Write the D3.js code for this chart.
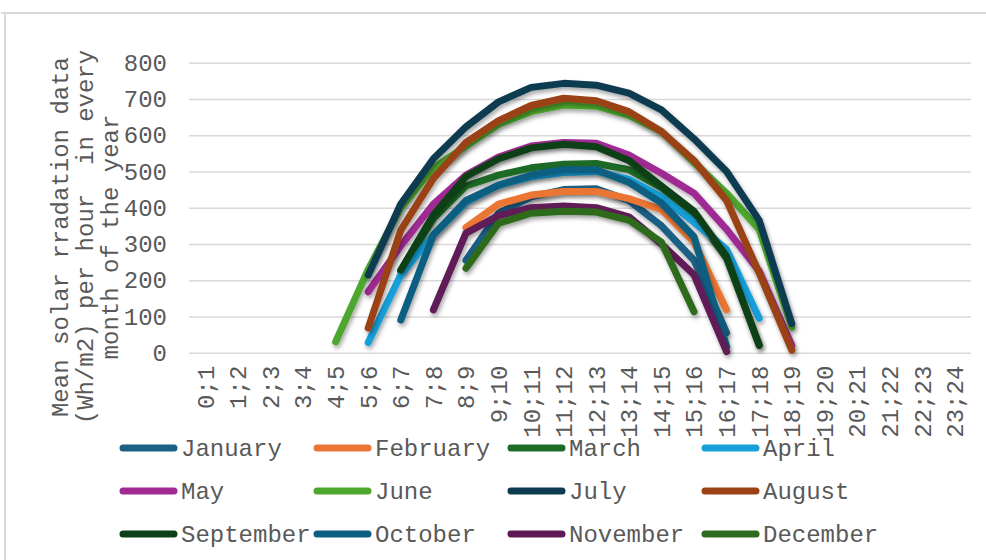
<!doctype html>
<html>
  <head>
    <script src="https://cdn.jsdelivr.net/npm/d3@7/dist/d3.min.js"></script>
    <style>
      body { margin: 0; background: #fff; }
      text { font-family: "Liberation Mono", "Courier New", monospace; fill: #595959; }
    </style>
  </head>
  <body>
    <svg id="chart" width="986" height="560"></svg>
    <script>
      // hour slots on the x axis
      const hours = d3.range(24).map(i => i + ";" + (i + 1));
      const yTicks = [0, 100, 200, 300, 400, 500, 600, 700, 800];

      const months = ["January", "February", "March", "April", "May", "June",
                      "July", "August", "September", "October", "November", "December"];
      const colors = ["#1b5f85", "#eb7532", "#1d6b28", "#17a0d9", "#a02b93", "#4ea72e",
                      "#0c3a50", "#9a4214", "#0e3f17", "#0b5f82", "#5e1a56", "#2e6a1f"];

      // values per month: first hour index + readings
      const january   = { start: 8, values: [255, 385, 430, 450, 452, 420, 350, 255, 55] };
      const february  = { start: 8, values: [345, 410, 435, 445, 445, 425, 395, 305, 118] };
      const march     = { start: 6, values: [225, 370, 460, 490, 510, 520, 522, 505, 455, 385, 260, 22] };
      const april     = { start: 5, values: [28, 215, 325, 415, 462, 485, 497, 500, 478, 430, 360, 285, 95] };
      const may       = { start: 5, values: [168, 295, 410, 490, 540, 570, 580, 578, 545, 495, 440, 340, 225, 20] };
      const june      = { start: 4, values: [30, 230, 400, 510, 570, 630, 665, 683, 680, 655, 610, 525, 440, 340, 70] };
      const july      = { start: 5, values: [214, 410, 535, 623, 692, 732, 743, 738, 716, 670, 590, 500, 365, 80] };
      const august    = { start: 5, values: [68, 338, 481, 580, 640, 682, 702, 695, 665, 610, 530, 420, 220, 7] };
      const september = { start: 6, values: [228, 380, 486, 535, 565, 575, 568, 530, 460, 390, 265, 20] };
      const october   = { start: 6, values: [90, 325, 420, 462, 490, 505, 505, 470, 413, 320, 17] };
      const november  = { start: 7, values: [118, 330, 378, 400, 405, 400, 375, 300, 215, 3] };
      const december  = { start: 8, values: [233, 357, 385, 390, 388, 366, 305, 113] };

      const series = [january, february, march, april, may, june,
                      july, august, september, october, november, december];

      const svg = d3.select("#chart");

      const defs = svg.append("defs");
      defs.append("filter")
          .attr("id", "shadow")
          .attr("x", "-10%").attr("y", "-10%")
          .attr("width", "130%").attr("height", "130%")
        .append("feDropShadow")
          .attr("dx", 1.5).attr("dy", 3)
          .attr("stdDeviation", 2)
          .attr("flood-color", "#000")
          .attr("flood-opacity", 0.35);

      // chart frame
      svg.append("line").attr("x1", 1).attr("x2", 986).attr("y1", 13).attr("y2", 13)
        .style("stroke", "#d9d9d9").style("stroke-width", 2);
      svg.append("line").attr("x1", 5).attr("x2", 5).attr("y1", 13).attr("y2", 560)
        .style("stroke", "#d9d9d9").style("stroke-width", 2);

      const xScale = d3.scaleBand().domain(hours).range([189, 971]);
      const yScale = d3.scaleLinear().domain([0, 800]).range([352.7, 62.7]);

      // gridlines + y labels
      const yAxis = d3.axisLeft(yScale)
        .tickValues(yTicks)
        .tickSize(-(971 - 189))
        .tickPadding(22);

      const yG = svg.append("g")
          .attr("transform", "translate(189,0)")
          .call(yAxis);
      yG.select(".domain").remove();
      yG.selectAll(".tick line").style("stroke", "#d9d9d9").style("stroke-width", 1.6);
      yG.selectAll(".tick text")
          .style("font-size", "24px")
          .style("fill", "#595959")
          .style("font-family", "'Liberation Mono', monospace");

      // x labels, rotated
      const xAxis = d3.axisBottom(xScale).tickSize(0).tickPadding(0);
      const xG = svg.append("g")
          .attr("transform", "translate(0,352.7)")
          .call(xAxis);
      xG.select(".domain").remove();
      xG.selectAll(".tick text")
          .attr("transform", "rotate(-90)")
          .attr("x", -13)
          .attr("y", 0)
          .attr("dy", "0.35em")
          .style("text-anchor", "end")
          .style("font-size", "24px")
          .style("fill", "#595959")
          .style("font-family", "'Liberation Mono', monospace");

      // series lines
      const line = d3.line()
        .defined(d => d.v != null)
        .x(d => xScale(d.h) + xScale.bandwidth() / 2)
        .y(d => yScale(d.v));

      series.forEach((s, i) => {
        const pts = s.values.map((v, k) => ({ h: hours[s.start + k], v: v }));
        svg.append("path")
          .datum(pts)
          .attr("d", line)
          .attr("filter", "url(#shadow)")
          .style("fill", "none")
          .style("stroke", colors[i])
          .style("stroke-width", 7)
          .style("stroke-linecap", "round")
          .style("stroke-linejoin", "round");
      });

      // axis title
      const title = svg.append("text")
          .attr("transform", "translate(85,237) rotate(-90)")
          .attr("text-anchor", "middle")
          .style("font-size", "24px")
          .style("white-space", "pre");
      ["Mean solar rradation data", "(Wh/m2) per hour  in every", "month of the year"]
        .forEach((t, i) => {
          title.append("tspan")
            .attr("x", 0)
            .attr("y", (i - 1) * 25)
            .attr("dy", "0.35em")
            .attr("xml:space", "preserve")
            .text(t);
        });

      // legend
      const legend = svg.append("g").selectAll("g.item")
        .data(months).enter()
        .append("g")
          .attr("class", "item")
          .attr("transform", (d, i) => `translate(${120 + (i % 4) * 194}, ${448 + Math.floor(i / 4) * 43})`);
      legend.append("line")
          .attr("x1", 3).attr("x2", 54)
          .style("stroke", (d, i) => colors[i])
          .style("stroke-width", 7)
          .style("stroke-linecap", "round");
      legend.append("text")
          .attr("x", 61)
          .attr("dy", "0.35em")
          .style("font-size", "24px")
          .text(d => d);
    </script>
  </body>
</html>
